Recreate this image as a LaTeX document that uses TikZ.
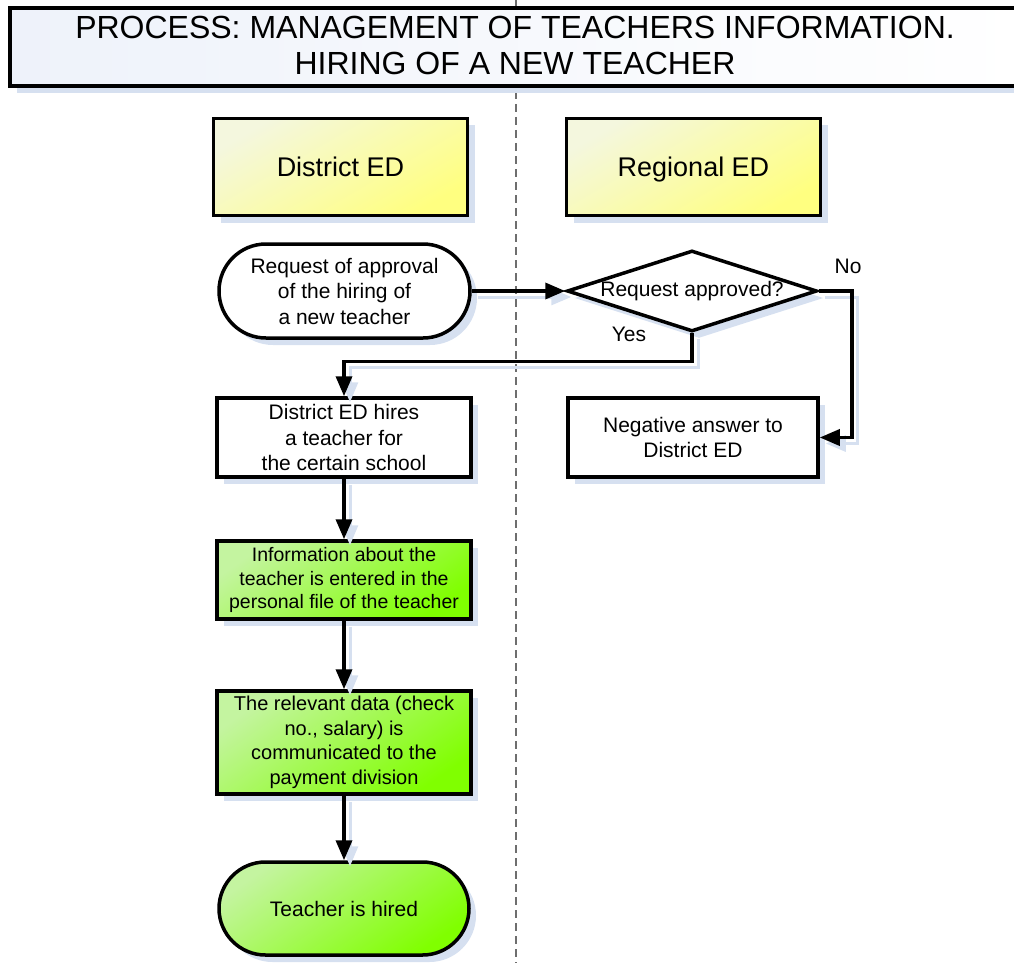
\documentclass[tikz,border=0pt]{standalone}
\usepackage{fontspec}
\setmainfont{Liberation Sans}
\usetikzlibrary{shapes.geometric, shapes.misc, shadows, arrows.meta}

\definecolor{shadowblue}{RGB}{214,224,240}
\definecolor{hdryellow}{RGB}{255,255,128}
\definecolor{hdrpale}{RGB}{244,247,222}
\definecolor{limegreen}{RGB}{128,255,0}
\definecolor{palegreen}{RGB}{196,244,160}
\definecolor{titlepale}{RGB}{238,242,250}
\definecolor{divgray}{RGB}{110,110,110}

\tikzset{
  softshadow/.style={drop shadow={shadow xshift=7pt, shadow yshift=-7pt, fill=shadowblue, opacity=1}},
  boxline/.style={draw=black, line width=3.5pt},
  titlebox/.style={rectangle, boxline, softshadow, minimum width=1014pt, minimum height=78pt,
    left color=titlepale, right color=white},
  lanehead/.style={rectangle, boxline, softshadow, minimum width=254pt, minimum height=97pt,
    top color=hdrpale, bottom color=hdryellow, shading angle=30,
    font=\fontsize{27}{32}\selectfont, text height=19.5pt, text depth=0pt},
  task/.style={rectangle, boxline, softshadow, fill=white, minimum width=254pt, minimum height=79pt,
    align=center, font=\fontsize{21}{25.5}\selectfont, inner sep=2pt},
  greentask/.style={task, top color=palegreen, bottom color=limegreen, shading angle=35,
    font=\fontsize{19.5}{23.5}\selectfont},
  terminal/.style={rounded rectangle, boxline, softshadow, fill=white, minimum width=255pt,
    minimum height=94pt, align=center, font=\fontsize{21}{25.5}\selectfont, inner sep=2pt},
  decision/.style={diamond, boxline, softshadow, fill=white, shape aspect=3, inner sep=0pt,
    minimum width=250pt, minimum height=81pt, font=\fontsize{21}{25.5}\selectfont},
  flow/.style={line width=3.5pt, -{Triangle[length=20pt, width=16pt]},
    preaction={draw=shadowblue, line width=3pt, transform canvas={shift={(6pt,-6pt)}}}},
  flowlabel/.style={font=\fontsize{21}{25.5}\selectfont, inner sep=0pt},
  divider/.style={draw=divgray, line width=1.3pt, dash pattern=on 8pt off 5pt}
}

\begin{document}
\begin{tikzpicture}[x=1pt, y=-1pt]
  \useasboundingbox (0,0) rectangle (1014,963);

  % lane divider
  \coordinate (divtop) at (516,0);
  \coordinate (divbot) at (516,963);
  \draw[divider] (divtop) -- (divbot);

  % title banner
  \node[titlebox] (banner) at (517,47) {};
  \node[align=center, font=\fontsize{32}{36}\selectfont, inner sep=0pt] (title) at (515,45)
    {PROCESS: MANAGEMENT OF TEACHERS INFORMATION.\\HIRING OF A NEW TEACHER};

  % lane headers
  \node[lanehead] (district) at (340.5,167) {District ED};
  \node[lanehead] (regional) at (693.5,167) {Regional ED};

  % process steps
  \node[terminal] (request) at (344.5,291) {Request of approval\\of the hiring of\\a new teacher};
  \node[decision] (approved) at (692,291) {Request approved?};
  \node[task] (hires) at (344,437.5) {District ED hires\\a teacher for\\the certain school};
  \node[task, minimum width=250pt] (negative) at (693,437.5) {Negative answer to\\District ED};
  \node[greentask, minimum height=78pt] (entered) at (344,580) {Information about the\\teacher is entered in the\\personal file of the teacher};
  \node[greentask, minimum height=103pt, font=\fontsize{20}{24.5}\selectfont] (payment) at (344,742.5) {The relevant data (check\\no., salary) is\\communicated to the\\payment division};
  \node[terminal, top color=palegreen, bottom color=limegreen, shading angle=35, minimum width=254pt, minimum height=93pt] (hired) at (344,908.5) {Teacher is hired};

  % connectors
  \draw[flow] (request.east) -- (approved.west);
  \draw[flow] (approved.east) -- ++(33,0) |- (negative.east);
  \draw[flow] (approved.south) -- ++(0,28) -| (hires.north);
  \draw[flow] (hires.south) -- (entered.north);
  \draw[flow] (entered.south) -- (payment.north);
  \draw[flow] (payment.south) -- (hired.north);

  % branch labels
  \node[flowlabel] (nolabel) at (848,266) {No};
  \node[flowlabel] (yeslabel) at (629,334) {Yes};
\end{tikzpicture}
\end{document}
